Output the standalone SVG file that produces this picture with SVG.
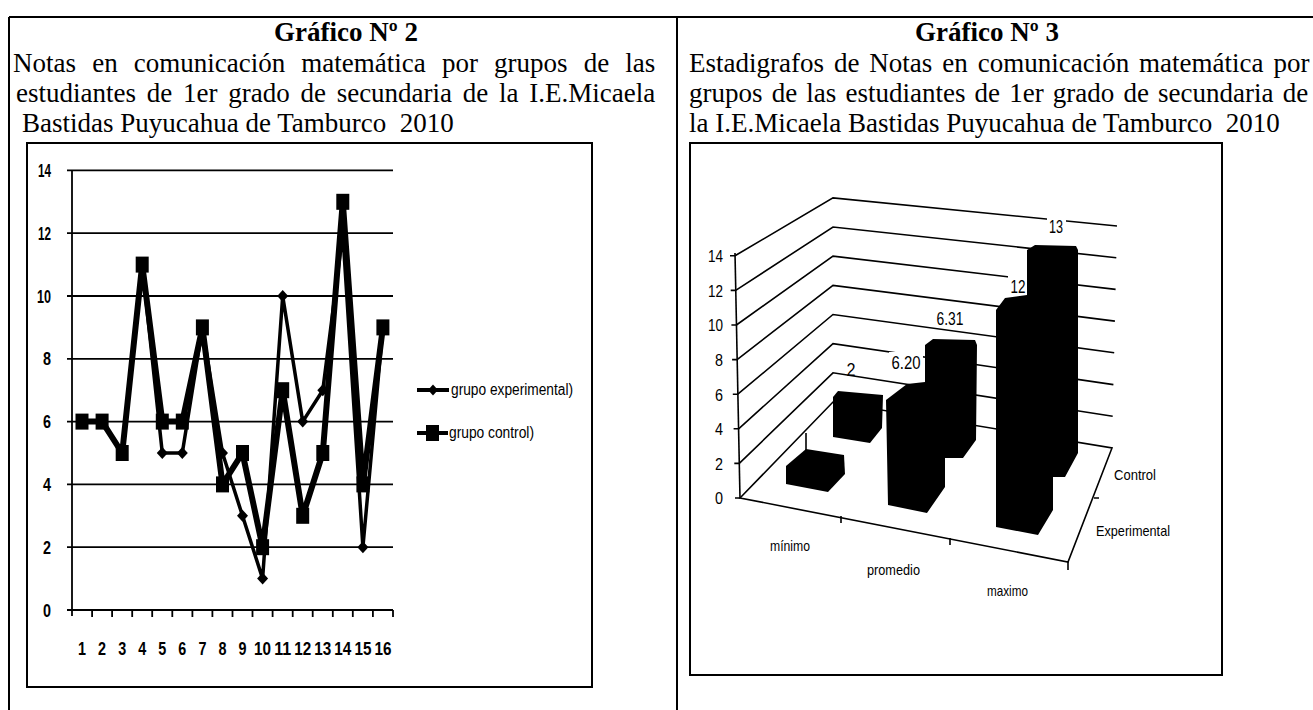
<svg xmlns="http://www.w3.org/2000/svg" width="1313" height="710" viewBox="0 0 1313 710">
<style>
.t{font-family:"Liberation Serif","Times New Roman",serif;font-size:27px;fill:#000}
.tb{font-weight:bold}
.ax{font-family:"Liberation Sans",Arial,sans-serif;font-size:19px;font-weight:bold;fill:#000}
.ax2{font-family:"Liberation Sans",Arial,sans-serif;font-size:17px;fill:#000}
.dl{font-family:"Liberation Sans",Arial,sans-serif;font-size:18px;fill:#000}
.cat{font-family:"Liberation Sans",Arial,sans-serif;font-size:15px;fill:#000}
.lg{font-family:"Liberation Sans",Arial,sans-serif;font-size:16px;fill:#000}
.frame{fill:#fff;stroke:#000;stroke-width:2}
.rule{stroke:#000;stroke-width:2;fill:none}
.grid{stroke:#000;stroke-width:1.8;fill:none}
.wall{stroke:#000;stroke-width:1.6;fill:none}
.bar{fill:#000}
.lab{fill:#fff}
.sExp{fill:none;stroke:#000;stroke-width:3.5;stroke-linejoin:round;marker-start:url(#mDm);marker-mid:url(#mDm);marker-end:url(#mDm)}
.sCtl{fill:none;stroke:#000;stroke-width:6;stroke-linejoin:round;marker-start:url(#mSq);marker-mid:url(#mSq);marker-end:url(#mSq)}
</style>
<defs>
<marker id="mSq" viewBox="-8 -9 16 18" refX="0" refY="0" markerWidth="16" markerHeight="18" markerUnits="userSpaceOnUse" orient="0"><rect x="-6.5" y="-8" width="13" height="16" fill="#000"/></marker>
<marker id="mDm" viewBox="-7 -7 14 14" refX="0" refY="0" markerWidth="14" markerHeight="14" markerUnits="userSpaceOnUse" orient="0"><path d="M0,-6L5.5,0L0,6L-5.5,0Z" fill="#000"/></marker>
</defs>
<rect width="1313" height="710" fill="#fff"/>

<g id="table">
<line class="rule" x1="9" y1="17" x2="1313" y2="17"/>
<line class="rule" x1="9" y1="17" x2="9" y2="710"/>
<line class="rule" x1="677" y1="17" x2="677" y2="710"/>
</g>

<g id="caption-left">
<text class="t tb" x="346" y="41" text-anchor="middle">Gráfico Nº 2</text>
<text class="t" x="13" y="72" word-spacing="9.4">Notas en comunicación matemática por grupos de las</text>
<text class="t" x="16" y="102" word-spacing="4">estudiantes de 1er grado de secundaria de la I.E.Micaela</text>
<text class="t" x="22" y="132" xml:space="preserve">Bastidas Puyucahua de Tamburco  2010</text>
</g>

<g id="caption-right">
<text class="t tb" x="987" y="41" text-anchor="middle">Gráfico Nº 3</text>
<text class="t" x="689" y="72" word-spacing="3.2">Estadigrafos de Notas en comunicación matemática por</text>
<text class="t" x="689" y="102" word-spacing="2.4">grupos de las estudiantes de 1er grado de secundaria de</text>
<text class="t" x="689" y="132" xml:space="preserve">la I.E.Micaela Bastidas Puyucahua de Tamburco  2010</text>
</g>

<g id="chart2">
<rect class="frame" x="27" y="143" width="565" height="544"/>
<g id="chart2-grid">
<line class="grid" x1="67" y1="170.4" x2="393" y2="170.4"/>
<line class="grid" x1="67" y1="233.2" x2="393" y2="233.2"/>
<line class="grid" x1="67" y1="296" x2="393" y2="296"/>
<line class="grid" x1="67" y1="358.8" x2="393" y2="358.8"/>
<line class="grid" x1="67" y1="421.6" x2="393" y2="421.6"/>
<line class="grid" x1="67" y1="484.4" x2="393" y2="484.4"/>
<line class="grid" x1="67" y1="547.2" x2="393" y2="547.2"/>
<line class="grid" x1="67" y1="610" x2="393" y2="610"/>
<line class="grid" x1="72" y1="170.4" x2="72" y2="616"/>
<path class="grid" stroke-width="1.2" d="M92.1,610v7M112.1,610v7M132.2,610v7M152.2,610v7M172.3,610v7M192.4,610v7M212.4,610v7M232.5,610v7M252.5,610v7M272.6,610v7M292.7,610v7M312.7,610v7M332.8,610v7M352.8,610v7M372.9,610v7M393,610v7"/>
</g>
<g id="chart2-yaxis" class="ax" text-anchor="end">
<text x="51" y="177" textLength="13" lengthAdjust="spacingAndGlyphs">14</text>
<text x="51" y="239.8" textLength="13" lengthAdjust="spacingAndGlyphs">12</text>
<text x="51" y="302.6" textLength="14" lengthAdjust="spacingAndGlyphs">10</text>
<text x="51" y="365.4" textLength="8" lengthAdjust="spacingAndGlyphs">8</text>
<text x="51" y="428.2" textLength="8" lengthAdjust="spacingAndGlyphs">6</text>
<text x="51" y="491" textLength="8" lengthAdjust="spacingAndGlyphs">4</text>
<text x="51" y="553.8" textLength="8" lengthAdjust="spacingAndGlyphs">2</text>
<text x="51" y="616.6" textLength="8" lengthAdjust="spacingAndGlyphs">0</text>
</g>
<g id="chart2-xaxis" class="ax" text-anchor="middle">
<text x="82" y="655" textLength="8" lengthAdjust="spacingAndGlyphs">1</text>
<text x="102.1" y="655" textLength="8" lengthAdjust="spacingAndGlyphs">2</text>
<text x="122.2" y="655" textLength="8" lengthAdjust="spacingAndGlyphs">3</text>
<text x="142.2" y="655" textLength="8" lengthAdjust="spacingAndGlyphs">4</text>
<text x="162.3" y="655" textLength="8" lengthAdjust="spacingAndGlyphs">5</text>
<text x="182.3" y="655" textLength="8" lengthAdjust="spacingAndGlyphs">6</text>
<text x="202.4" y="655" textLength="8" lengthAdjust="spacingAndGlyphs">7</text>
<text x="222.5" y="655" textLength="8" lengthAdjust="spacingAndGlyphs">8</text>
<text x="242.5" y="655" textLength="8" lengthAdjust="spacingAndGlyphs">9</text>
<text x="262.6" y="655" textLength="17" lengthAdjust="spacingAndGlyphs">10</text>
<text x="282.7" y="655" textLength="17" lengthAdjust="spacingAndGlyphs">11</text>
<text x="302.7" y="655" textLength="17" lengthAdjust="spacingAndGlyphs">12</text>
<text x="322.8" y="655" textLength="17" lengthAdjust="spacingAndGlyphs">13</text>
<text x="342.8" y="655" textLength="17" lengthAdjust="spacingAndGlyphs">14</text>
<text x="362.9" y="655" textLength="17" lengthAdjust="spacingAndGlyphs">15</text>
<text x="382.9" y="655" textLength="17" lengthAdjust="spacingAndGlyphs">16</text>
</g>
<g id="connectors">
<polyline id="series-experimental" class="sExp" points="82,421.6 102.1,421.6 122.2,453 142.2,264.6 162.3,453 182.3,453 202.4,327.4 222.5,453 242.5,515.8 262.6,578.6 282.7,296 302.7,421.6 322.8,390.2 342.8,233.2 362.9,547.2 382.9,327.4"/>
<polyline id="series-control" class="sCtl" points="82,421.6 102.1,421.6 122.2,453 142.2,264.6 162.3,421.6 182.3,421.6 202.4,327.4 222.5,484.4 242.5,453 262.6,547.2 282.7,390.2 302.7,515.8 322.8,453 342.8,201.8 362.9,484.4 382.9,327.4"/>
</g>
<g id="chart2-legend">
<line x1="417" y1="390" x2="449" y2="390" stroke="#000" stroke-width="4"/>
<path d="M433,384.5L438,390L433,395.5L428,390Z" fill="#000"/>
<text class="lg" x="451" y="395" textLength="122" lengthAdjust="spacingAndGlyphs">grupo experimental)</text>
<line x1="417" y1="433" x2="448" y2="433" stroke="#000" stroke-width="4"/>
<rect x="426" y="425" width="13" height="16" fill="#000"/>
<text class="lg" x="449" y="438" textLength="85" lengthAdjust="spacingAndGlyphs">grupo control)</text>
</g>
</g>

<g id="chart3">
<rect class="frame" x="690" y="143" width="532" height="532"/>
<g id="chart3-walls">
<polyline class="wall" points="739.3,463.4 833,372.8 1112.7,416.3"/>
<polyline class="wall" points="738.6,428.8 833,343.7 1113.4,384.6"/>
<polyline class="wall" points="737.8,394.2 833,314.5 1114.2,352.8"/>
<polyline class="wall" points="737.1,359.6 833,285.4 1114.9,321.1"/>
<polyline class="wall" points="736.4,325 833,256.2 1115.6,289.4"/>
<polyline class="wall" points="735.7,290.4 833,227 1116.3,257.7"/>
<polyline class="wall" points="735,255.8 833,197.9 1117,226"/>
<polygon class="wall" points="740,498 833,402 1112,448 1068,562"/>
<line class="wall" x1="740" y1="498" x2="735" y2="253"/>
<path class="wall" stroke-width="1.2" d="M735,498h5M734.3,463.4h5M733.6,428.8h5M732.8,394.2h5M732.1,359.6h5M731.4,325h5M730.7,290.4h5M730,255.8h5M841,516v7M950,538v7M1068,562v8M1094,498h5M806,433v17"/>
</g>
<g id="chart3-yaxis" class="ax2" text-anchor="end">
<text x="723" y="262" textLength="15" lengthAdjust="spacingAndGlyphs">14</text>
<text x="723" y="296.5" textLength="15" lengthAdjust="spacingAndGlyphs">12</text>
<text x="723" y="331" textLength="15" lengthAdjust="spacingAndGlyphs">10</text>
<text x="723" y="366" textLength="8" lengthAdjust="spacingAndGlyphs">8</text>
<text x="723" y="400.5" textLength="8" lengthAdjust="spacingAndGlyphs">6</text>
<text x="723" y="435" textLength="8" lengthAdjust="spacingAndGlyphs">4</text>
<text x="723" y="469.5" textLength="8" lengthAdjust="spacingAndGlyphs">2</text>
<text x="723" y="504" textLength="8" lengthAdjust="spacingAndGlyphs">0</text>
</g>
<g id="chart3-bars">
<path id="bar-ctl-min" class="bar" d="M833,397L838,391L883,395L882,428L870,443L833,437Z"/>
<path id="bar-exp-min" class="bar" d="M786,466L806,449L844,455L845,474L828,492L786,484Z"/>
<path id="bar-promedio" class="bar" d="M886,400L907,384L925,382L925,345L933,339L975,340L977,345L976,440L963,458L945,458L945,487L927,513L888,505Z"/>
<path id="bar-maximo" class="bar" d="M996,310L1005,298L1027,295L1027,250L1035,245L1076,246L1078,250L1078,453L1065,477L1053,477L1053,510L1038,535L996,527Z"/>
</g>
<g id="chart3-labels" class="dl" text-anchor="middle">
<text x="851" y="376" textLength="9" lengthAdjust="spacingAndGlyphs">2</text>
<rect class="lab" x="889" y="352" width="34" height="19"/>
<text x="906" y="369" textLength="29" lengthAdjust="spacingAndGlyphs">6.20</text>
<text x="950" y="325" textLength="27" lengthAdjust="spacingAndGlyphs">6.31</text>
<rect class="lab" x="1008" y="275" width="19" height="20"/>
<text x="1018" y="293" textLength="15" lengthAdjust="spacingAndGlyphs">12</text>
<rect class="lab" x="1047" y="215" width="19" height="21"/>
<text x="1056" y="233" textLength="14" lengthAdjust="spacingAndGlyphs">13</text>
</g>
<g id="chart3-categories" class="cat">
<text x="770" y="551" textLength="40" lengthAdjust="spacingAndGlyphs">mínimo</text>
<text x="867" y="575" textLength="53" lengthAdjust="spacingAndGlyphs">promedio</text>
<text x="987" y="596" textLength="41" lengthAdjust="spacingAndGlyphs">maximo</text>
<text x="1114" y="480" textLength="42" lengthAdjust="spacingAndGlyphs">Control</text>
<text x="1096" y="536" textLength="74" lengthAdjust="spacingAndGlyphs">Experimental</text>
</g>
</g>
</svg>
